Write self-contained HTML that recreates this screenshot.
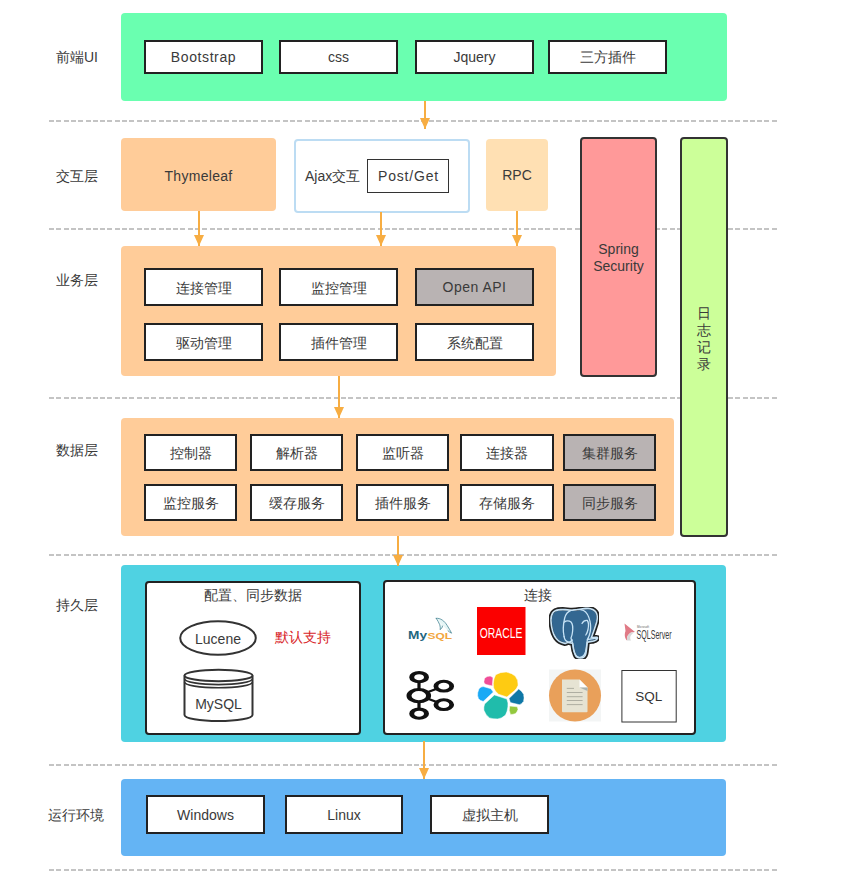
<!DOCTYPE html>
<html>
<head>
<meta charset="utf-8">
<style>
html,body{margin:0;padding:0;background:#fff;}
body{width:862px;height:887px;position:relative;overflow:hidden;font-family:"Liberation Sans",sans-serif;color:#3a3a3a;font-size:14px;}
.a{position:absolute;box-sizing:border-box;}
.c{display:flex;align-items:center;justify-content:center;text-align:center;}
.lbl{position:absolute;left:56px;font-size:14px;line-height:16px;color:#3a3a3a;white-space:nowrap;}
.dash{position:absolute;left:49px;width:730px;height:2px;background:repeating-linear-gradient(90deg,#c4c4c4 0,#c4c4c4 5px,transparent 5px,transparent 7.3px);}
.layer{position:absolute;box-sizing:border-box;border-radius:4px;}
.bx{position:absolute;box-sizing:border-box;border:2px solid #222;background:#fff;display:flex;align-items:center;justify-content:center;font-size:14px;color:#3a3a3a;white-space:nowrap;}
.gray{background:#b9b3b3;}
.cn{padding-top:2px;}
.cn3{padding-top:3px;}
.arr{position:absolute;width:2px;background:#f7ad42;}
.arr:after{content:"";position:absolute;left:-4px;bottom:0;border-left:5px solid transparent;border-right:5px solid transparent;border-top:11px solid #f7ad42;}
</style>
</head>
<body>
<!-- dashed separators -->
<div class="dash" style="top:120px"></div>
<div class="dash" style="top:228px"></div>
<div class="dash" style="top:397px"></div>
<div class="dash" style="top:554px"></div>
<div class="dash" style="top:764px"></div>
<div class="dash" style="top:869px"></div>

<!-- labels -->
<div class="lbl" style="top:49px">前端UI</div>
<div class="lbl" style="top:168px">交互层</div>
<div class="lbl" style="top:272px">业务层</div>
<div class="lbl" style="top:442px">数据层</div>
<div class="lbl" style="top:597px">持久层</div>
<div class="lbl" style="top:807px;left:48px">运行环境</div>

<!-- 前端UI -->
<div class="layer" style="left:121px;top:13px;width:606px;height:88px;background:#6affb0;"></div>
<div class="bx" style="left:144px;top:40px;width:119px;height:34px;letter-spacing:0.6px;">Bootstrap</div>
<div class="bx" style="left:279px;top:40px;width:119px;height:34px;">css</div>
<div class="bx" style="left:415px;top:40px;width:119px;height:34px;">Jquery</div>
<div class="bx cn" style="left:548px;top:40px;width:119px;height:34px;">三方插件</div>

<!-- 交互层 -->
<div class="layer c" style="left:121px;top:138px;width:155px;height:73px;background:#ffcc99;padding-top:2px;letter-spacing:0.3px;">Thymeleaf</div>
<div class="layer" style="left:293.5px;top:138.5px;width:176px;height:74px;border:2px solid #bcdcf3;background:#fff;"></div>
<div class="a" style="left:305px;top:168px;line-height:16px;white-space:nowrap;">Ajax交互</div>
<div class="bx" style="left:367px;top:159px;width:82px;height:34px;border-width:1px;border-color:#333;letter-spacing:0.8px;padding-left:1px;">Post/Get</div>
<div class="layer c" style="left:486px;top:139px;width:62px;height:72px;background:#ffe0b3;">RPC</div>

<!-- Spring Security / log -->
<div class="layer" style="left:580px;top:137px;width:77px;height:240px;background:#ff9999;border:2px solid #333;"></div>
<div class="a" style="left:580px;top:241px;width:77px;text-align:center;line-height:17px;">Spring<br>Security</div>
<div class="layer" style="left:680px;top:137px;width:48px;height:400px;background:#ccff99;border:2px solid #333;"></div>
<div class="a" style="left:680px;top:305px;width:48px;text-align:center;line-height:17px;">日<br>志<br>记<br>录</div>

<!-- 业务层 -->
<div class="layer" style="left:121px;top:246px;width:435px;height:130px;background:#ffcc99;"></div>
<div class="bx cn3" style="left:144px;top:268px;width:119px;height:38px;">连接管理</div>
<div class="bx cn3" style="left:279px;top:268px;width:119px;height:38px;">监控管理</div>
<div class="bx gray" style="left:415px;top:268px;width:119px;height:38px;letter-spacing:0.5px;">Open API</div>
<div class="bx cn3" style="left:144px;top:323px;width:119px;height:38px;">驱动管理</div>
<div class="bx cn3" style="left:279px;top:323px;width:119px;height:38px;">插件管理</div>
<div class="bx cn3" style="left:415px;top:323px;width:119px;height:38px;">系统配置</div>

<!-- 数据层 -->
<div class="layer" style="left:121px;top:418px;width:553px;height:118px;background:#ffcc99;"></div>
<div class="bx cn" style="left:144px;top:434px;width:93px;height:37px;">控制器</div>
<div class="bx cn" style="left:250px;top:434px;width:93px;height:37px;">解析器</div>
<div class="bx cn" style="left:356px;top:434px;width:93px;height:37px;">监听器</div>
<div class="bx cn" style="left:460px;top:434px;width:94px;height:37px;">连接器</div>
<div class="bx gray cn" style="left:563px;top:434px;width:93px;height:37px;">集群服务</div>
<div class="bx cn" style="left:144px;top:484px;width:93px;height:37px;">监控服务</div>
<div class="bx cn" style="left:250px;top:484px;width:93px;height:37px;">缓存服务</div>
<div class="bx cn" style="left:356px;top:484px;width:93px;height:37px;">插件服务</div>
<div class="bx cn" style="left:460px;top:484px;width:94px;height:37px;">存储服务</div>
<div class="bx gray cn" style="left:563px;top:484px;width:93px;height:37px;">同步服务</div>

<!-- 持久层 -->
<div class="layer" style="left:121px;top:565px;width:605px;height:177px;background:#4fd2e2;"></div>
<div class="a" style="left:144.5px;top:580.5px;width:216.5px;height:154px;background:#fff;border:2px solid #222;border-radius:4px;"></div>
<div class="a" style="left:383px;top:580px;width:313px;height:155px;background:#fff;border:2px solid #222;border-radius:4px;"></div>
<div class="a" style="left:145px;top:587px;width:216px;text-align:center;line-height:16px;">配置、同步数据</div>
<div class="a" style="left:381.5px;top:587px;width:313px;text-align:center;line-height:16px;">连接</div>
<svg class="a" style="left:0;top:0" width="862" height="887" viewBox="0 0 862 887">
  <!-- Lucene ellipse -->
  <ellipse cx="218" cy="638" rx="37.8" ry="16.8" fill="#fff" stroke="#333" stroke-width="2"/>
  <!-- MySQL cylinder -->
  <path d="M184.5 675.5 L184.5 715 A34 6 0 0 0 252.5 715 L252.5 675.5" fill="#fff" stroke="#333" stroke-width="2"/>
  <ellipse cx="218.5" cy="675.5" rx="34" ry="5.8" fill="#fff" stroke="#333" stroke-width="2"/>
  <path d="M184.5 678.8 A34 5.8 0 0 0 252.5 678.8" fill="none" stroke="#333" stroke-width="1.6"/>
  <path d="M184.5 682 A34 5.8 0 0 0 252.5 682" fill="none" stroke="#333" stroke-width="1.6"/>
</svg>
<div class="a" style="left:179px;top:631px;width:78px;text-align:center;line-height:16px;">Lucene</div>
<div class="a" style="left:183px;top:696px;width:71px;text-align:center;line-height:16px;">MySQL</div>
<div class="a" style="left:275px;top:629.5px;line-height:16px;font-size:13.5px;color:#d8262a;white-space:nowrap;">默认支持</div>

<!-- logos -->
<svg class="a" style="left:0;top:0" width="862" height="887" viewBox="0 0 862 887">
  <!-- MySQL logo -->
  <g>
    <path d="M436.2 618.3 C440.5 617.8 444.5 621 447.2 625.5 C448.8 628.2 450.3 630.5 451.6 633.2 C450.2 632.6 449 631.8 448 630.8 M436.2 618.3 C437.5 620.5 438.8 622.3 439.6 624.5 C440.2 626.5 440.5 628 440 629.6 C441.5 628.8 442.3 627.5 442.6 626" fill="#e6f6f6" stroke="#3f7f8f" stroke-width="0.75" stroke-linecap="round"/>
    <text x="408" y="639.3" font-family="Liberation Sans" font-weight="bold" font-size="10" fill="#22667f" textLength="19" lengthAdjust="spacingAndGlyphs">My</text>
    <text x="427.5" y="639.2" font-family="Liberation Sans" font-weight="bold" font-size="9.6" fill="#f2a640" textLength="24.5" lengthAdjust="spacingAndGlyphs">SQL</text>
  </g>
  <!-- Oracle -->
  <rect x="477" y="607" width="48.5" height="48" fill="#fb0000"/>
  <text x="479.8" y="638.3" font-family="Liberation Sans" font-size="14.5" fill="#fff" textLength="42.5" lengthAdjust="spacingAndGlyphs">ORACLE</text>
  <!-- SQL Server -->
  <path d="M624.5 623.5 L635 632 L631 632.5 C628 634 626.5 637 627 640.5 C625 638.5 624 635 625.5 631 Z" fill="#e07a86"/>
  <path d="M627 640.5 C626.5 637 628 634 631 632.5 L634 632.5 C630 635 629.5 638 631 640.5 Z" fill="#d8d8d8"/>
  <text x="637" y="627.5" font-family="Liberation Sans" font-size="3" fill="#666" textLength="12" lengthAdjust="spacingAndGlyphs">Microsoft</text>
  <text x="636.5" y="639" font-family="Liberation Sans" font-size="13" fill="#3a3a3a" textLength="35" lengthAdjust="spacingAndGlyphs">SQLServer</text>
  <!-- Kafka -->
  <g transform="translate(400,665) scale(1,0.62)" fill="none" stroke="#111">
    <line x1="19" y1="22" x2="19" y2="78" stroke-width="3.2"/>
    <line x1="19" y1="49" x2="43.8" y2="34.2" stroke-width="3.2"/>
    <line x1="19" y1="49" x2="43.8" y2="64" stroke-width="3.2"/>
    <circle cx="19.1" cy="19.7" r="7.4" stroke-width="5" fill="#fff"/>
    <circle cx="18.8" cy="49.4" r="9.8" stroke-width="5" fill="#fff"/>
    <circle cx="43.8" cy="34.2" r="7.9" stroke-width="4.8" fill="#fff"/>
    <circle cx="43.8" cy="64" r="7.9" stroke-width="4.8" fill="#fff"/>
    <circle cx="19.1" cy="78.5" r="7.4" stroke-width="5" fill="#fff"/>
  </g>
  <!-- Elastic -->
  <g transform="translate(470,665)" stroke="#fff" stroke-width="0.5" stroke-linejoin="round">
    <path d="M25.7 9.7 Q30 7 36.2 7 Q42 8 45.2 11.1 Q48.5 15 48 20.2 Q47 23.5 44.5 25.7 L36.9 32 L28.5 29.2 Q25 26.5 23.7 23 Q22.8 18 24 13.9 Z" fill="#fecb12"/>
    <path d="M14.6 13.2 Q17 11 20.2 11.1 L23 12.5 L22.3 20.9 L16 19.5 Q13.6 18.5 13.9 16.7 Z" fill="#f04e98"/>
    <path d="M9 23.7 Q11 21.6 13.2 21.6 L20.9 23.7 L23.3 27.1 L13.2 36.5 Q9.5 35.5 8.4 33.4 Q7.2 30.5 7.7 27.8 Z" fill="#1ba9f5"/>
    <path d="M14.6 39 L24.4 29.9 L36.9 34.1 Q38.5 38 37.9 41.8 Q37.5 46.5 35.5 50.1 Q32 53.5 27.8 53.9 Q22.5 54 19.5 52.9 Q15.5 50 13.9 45.2 Q13.5 42 14.6 39 Z" fill="#20bcab"/>
    <path d="M39 33.4 L48.7 24 Q52 26 53.6 29.2 Q54.5 33 53.6 36.2 Q52 39 49.4 39.7 L40.4 37.6 Z" fill="#0e77a6"/>
    <path d="M39.7 41 L47.3 41.8 L48 44.5 Q47 47.5 45.2 48.7 Q42.5 49.6 40.4 49.4 L39.3 45.2 Z" fill="#93c83e"/>
  </g>
  <!-- File icon -->
  <rect x="549" y="669.5" width="52" height="52" fill="#f3f5f5"/>
  <circle cx="575" cy="695.6" r="26" fill="#e9a05a"/>
  <path d="M562 679.5 L579.5 679.5 L587.5 687.5 L587.5 711.5 Q587.5 712.2 586.5 712.2 L563 712.2 Q562 712.2 562 711.2 Z" fill="#e6e3d3"/>
  <path d="M579.5 679.5 L587.5 687.5 L579.5 687.5 Z" fill="#ffffff"/>
  <path d="M579.5 687.5 L587.5 687.5 L587.5 691 Z" fill="#a9b3b3"/>
  <g stroke="#a8a89c" stroke-width="0.9">
    <line x1="566.8" y1="688.4" x2="574" y2="688.4"/>
    <line x1="566.8" y1="692.5" x2="582.6" y2="692.5"/>
    <line x1="566.8" y1="696.7" x2="582.6" y2="696.7"/>
    <line x1="566.8" y1="700.5" x2="582.6" y2="700.5"/>
    <line x1="566.8" y1="704.6" x2="582.6" y2="704.6"/>
  </g>
  <!-- SQL box -->
  <rect x="621.9" y="670.5" width="54.3" height="51.5" fill="#fff" stroke="#333" stroke-width="1"/>
  <text x="648.8" y="701" font-family="Liberation Sans" font-size="13.5" fill="#333" text-anchor="middle">SQL</text>
</svg>
<svg class="a" style="left:549px;top:607px" width="50" height="52" viewBox="0 0 50 52">
  <defs><clipPath id="pgc"><path d="M3 5.6 C1.5 8 1 11 1.2 14 C1.5 20 3 27 6.2 31.5 C8 34 11 36.5 15.7 37.2 C17 37.3 18 36.5 19 36.2 L23 37 C23.3 40 23.8 44 25.5 48 C26.5 50.5 28 51.8 31.5 51.8 C35 51.8 36.8 50 37.6 47 C38.3 44 38.5 40 39 36 C40 35.5 42 35.3 44 35 C46.5 34.5 48.5 33.5 49.3 31.5 C49.6 30 48.5 29.5 47 29.6 L43.5 29.8 C45 26 47 20 48.5 15 C49.5 11 49.3 7 47.5 4.5 C46 2.5 43 0.8 39 0.6 C36 0.5 34 1 32 1.3 C29 2 26 2.4 23 2.4 C20 2.4 17 1.8 13.8 1.8 C11 1.8 8 2 6 3 C5 3.6 3.8 4.5 3 5.6 Z"/></clipPath></defs>
  <path d="M3 5.6 C1.5 8 1 11 1.2 14 C1.5 20 3 27 6.2 31.5 C8 34 11 36.5 15.7 37.2 C17 37.3 18 36.5 19 36.2 L23 37 C23.3 40 23.8 44 25.5 48 C26.5 50.5 28 51.8 31.5 51.8 C35 51.8 36.8 50 37.6 47 C38.3 44 38.5 40 39 36 C40 35.5 42 35.3 44 35 C46.5 34.5 48.5 33.5 49.3 31.5 C49.6 30 48.5 29.5 47 29.6 L43.5 29.8 C45 26 47 20 48.5 15 C49.5 11 49.3 7 47.5 4.5 C46 2.5 43 0.8 39 0.6 C36 0.5 34 1 32 1.3 C29 2 26 2.4 23 2.4 C20 2.4 17 1.8 13.8 1.8 C11 1.8 8 2 6 3 C5 3.6 3.8 4.5 3 5.6 Z" fill="#336791" stroke="#222" stroke-width="3.4" stroke-linejoin="round"/>
  <path d="M3 5.6 C1.5 8 1 11 1.2 14 C1.5 20 3 27 6.2 31.5 C8 34 11 36.5 15.7 37.2 C17 37.3 18 36.5 19 36.2 L23 37 C23.3 40 23.8 44 25.5 48 C26.5 50.5 28 51.8 31.5 51.8 C35 51.8 36.8 50 37.6 47 C38.3 44 38.5 40 39 36 C40 35.5 42 35.3 44 35 C46.5 34.5 48.5 33.5 49.3 31.5 C49.6 30 48.5 29.5 47 29.6 L43.5 29.8 C45 26 47 20 48.5 15 C49.5 11 49.3 7 47.5 4.5 C46 2.5 43 0.8 39 0.6 C36 0.5 34 1 32 1.3 C29 2 26 2.4 23 2.4 C20 2.4 17 1.8 13.8 1.8 C11 1.8 8 2 6 3 C5 3.6 3.8 4.5 3 5.6 Z" fill="none" stroke="#c6e2f5" stroke-width="3.2" clip-path="url(#pgc)"/>
  <g fill="none" stroke="#c6e2f5" stroke-width="1.3" stroke-linecap="round" stroke-linejoin="round" clip-path="url(#pgc)">
    <path d="M15.1 29.6 C14 25 14 18 15.7 11 C16.5 7.5 19 4.5 22 3.3 C26 2 31 2.2 34.5 3.5 C37.5 5 39.8 9 41 14.4 C42 19 41.8 24 40.3 28.3 C39.5 30.5 38.8 31.5 38.4 32.5 C41 32 45 31.5 48.5 31"/>
    <path d="M15.1 29.6 C15.5 32.5 17 34.5 19.5 35 C21 35.2 22.3 34.3 23.3 33"/>
    <path d="M15.5 15 C17 13.5 20 13.3 22 15 C23.8 17 24 21 23.5 25 C23.2 28 22.5 30 22 31 C23 34 24 38 24.5 42 C25 46 26.5 49.5 30.2 50.3 C33.5 50.6 35.5 48 36.5 45 C37.5 41 37.8 36 38.4 32.5"/>
    <path d="M33 16.5 C34 14.5 36 13.3 38.3 13.5 C39.5 15 39.7 19 39 22.5 C38.5 25 37.5 27 36.8 28"/>
  </g>
</svg>

<!-- 运行环境 -->
<div class="layer" style="left:121px;top:778.5px;width:605px;height:77px;background:#64b4f4;"></div>
<div class="bx" style="left:146px;top:795px;width:119px;height:39px;">Windows</div>
<div class="bx" style="left:285px;top:795px;width:118px;height:39px;">Linux</div>
<div class="bx cn" style="left:430px;top:795px;width:119px;height:39px;">虚拟主机</div>

<!-- arrows -->
<div class="arr" style="left:423.5px;top:101px;height:28px;"></div>
<div class="arr" style="left:198px;top:211px;height:35px;"></div>
<div class="arr" style="left:380px;top:212px;height:34px;"></div>
<div class="arr" style="left:516px;top:211px;height:35px;"></div>
<div class="arr" style="left:337.5px;top:376px;height:42px;"></div>
<div class="arr" style="left:397px;top:536px;height:30px;"></div>
<div class="arr" style="left:423px;top:741px;height:38px;"></div>

</body>
</html>
